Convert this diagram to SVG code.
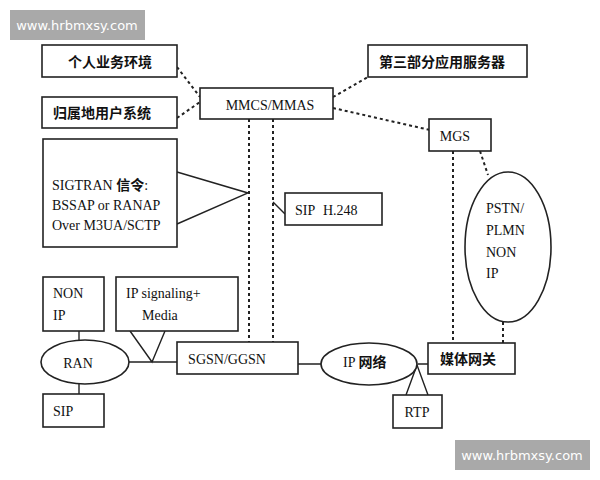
<svg xmlns="http://www.w3.org/2000/svg" width="600" height="480" viewBox="0 0 600 480">
<style>
.b{fill:#fff;stroke:#222;stroke-width:1.6}
.e{fill:#fff;stroke:#222;stroke-width:1.6}
.l{fill:none;stroke:#222;stroke-width:1.4}
.d{fill:none;stroke:#222;stroke-width:2;stroke-dasharray:3 3}
.t{font-family:"Liberation Serif","Noto Sans CJK SC",serif;font-size:14px;fill:#111;dominant-baseline:central}
.c{font-family:"Liberation Serif","Noto Sans CJK SC",serif;font-size:14px;fill:#111;font-weight:bold;dominant-baseline:central}
.w{font-family:"DejaVu Sans",sans-serif;font-size:13px;fill:#fff;dominant-baseline:central}
</style>
<rect width="600" height="480" fill="#fff"/>
<g id="connectors">
<path class="d" d="M177,67 L200,97 M177,118 L200,102 M333,97 L368,77 M333,108 L430,130"/>
<path class="d" d="M249,119 V342 M273,119 V342"/>
<path class="d" d="M453,151 V343 M480,151 L488,175 M503,322 V343"/>
<path class="l" d="M177,172 L248,193 L177,224"/>
<path class="l" d="M273,202 L285,214"/>
<path class="l" d="M129,362 H177 M130,331 L152,362 L165,331"/>
<path class="l" d="M79,331 V340 M79,384 V394"/>
<path class="l" d="M298,364 H321 M418,364 H428"/>
<path class="l" d="M406,395 L417,365 L428,395"/>
</g>
<g id="n1"><rect class="b" x="42" y="45" width="135" height="32"/><text class="c" x="110" y="62" text-anchor="middle">个人业务环境</text></g>
<g id="n2"><rect class="b" x="42" y="97" width="135" height="31"/><text class="c" x="53" y="113">归属地用户系统</text></g>
<g id="n3"><rect class="b" x="200" y="88" width="133" height="31"/><text class="t" x="270" y="105" text-anchor="middle">MMCS/MMAS</text></g>
<g id="n4"><rect class="b" x="368" y="45" width="159" height="32"/><text class="c" x="379" y="62">第三部分应用服务器</text></g>
<g id="n5"><rect class="b" x="429" y="119" width="62" height="32"/><text class="t" x="455" y="136" text-anchor="middle">MGS</text></g>
<g id="n6"><rect class="b" x="43" y="139" width="134" height="108"/>
<text class="t" x="52" y="185">SIGTRAN <tspan class="c">信令</tspan>:</text>
<text class="t" x="52" y="205">BSSAP or RANAP</text>
<text class="t" x="52" y="225">Over M3UA/SCTP</text></g>
<g id="n7"><rect class="b" x="285" y="193" width="97" height="32"/><text class="t" x="295" y="210">SIP</text><text class="t" x="323" y="210">H.248</text></g>
<g id="n8"><ellipse class="e" cx="508" cy="247" rx="43" ry="75"/>
<text class="t" x="486" y="208">PSTN/</text><text class="t" x="486" y="230">PLMN</text><text class="t" x="486" y="252">NON</text><text class="t" x="486" y="273">IP</text></g>
<g id="n9"><rect class="b" x="43" y="277" width="61" height="54"/><text class="t" x="53" y="293">NON</text><text class="t" x="53" y="315">IP</text></g>
<g id="n10"><rect class="b" x="116" y="277" width="122" height="54"/><text class="t" x="126" y="293">IP signaling+</text><text class="t" x="142" y="315">Media</text></g>
<g id="n11"><ellipse class="e" cx="85" cy="362" rx="44" ry="22"/><text class="t" x="78" y="363" text-anchor="middle">RAN</text></g>
<g id="n12"><rect class="b" x="177" y="342" width="121" height="32"/><text class="t" x="227" y="359" text-anchor="middle">SGSN/GGSN</text></g>
<g id="n13"><ellipse class="e" cx="369" cy="364" rx="48" ry="21"/><text class="t" x="343" y="362">IP <tspan class="c">网络</tspan></text></g>
<g id="n14"><rect class="b" x="428" y="343" width="87" height="31"/><text class="c" x="468" y="359" text-anchor="middle">媒体网关</text></g>
<g id="n15"><rect class="b" x="393" y="395" width="49" height="33"/><text class="t" x="417" y="412" text-anchor="middle">RTP</text></g>
<g id="n16"><rect class="b" x="43" y="394" width="61" height="33"/><text class="t" x="53" y="411">SIP</text></g>
<g id="wm"><rect x="10" y="10" width="135" height="30" fill="#a9a9a9"/><text class="w" x="77" y="25" text-anchor="middle">www.hrbmxsy.com</text>
<rect x="455" y="440" width="135" height="30" fill="#a9a9a9"/><text class="w" x="522" y="455" text-anchor="middle">www.hrbmxsy.com</text></g>
</svg>
